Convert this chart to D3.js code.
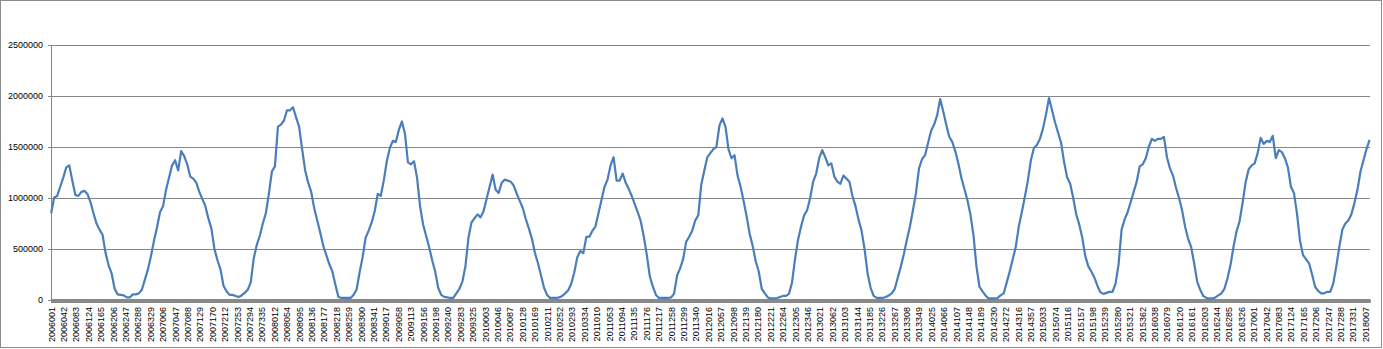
<!DOCTYPE html>
<html><head><meta charset="utf-8">
<script src="https://cdn.jsdelivr.net/npm/d3@7"></script>
<style>
body{margin:0;background:#fff}
svg text{font-family:"Liberation Sans",Arial,sans-serif;font-size:9px;fill:#000}
</style>
</head><body>
<svg id="chart" width="1383" height="349"></svg>
<script>
// ---- data ----
const yTicks = [0, 500000, 1000000, 1500000, 2000000, 2500000];
const tickLabels = ["2006001","2006042","2006083","2006124","2006165","2006206","2006247","2006288","2006329",
"2007006","2007047","2007088","2007129","2007170","2007212","2007253","2007294","2007335",
"2008012","2008054","2008095","2008136","2008177","2008218","2008259","2008300","2008341",
"2009017","2009058","2009113","2009156","2009198","2009240","2009283","2009325",
"2010003","2010046","2010087","2010128","2010169","2010211","2010252","2010293","2010334",
"2011010","2011053","2011094","2011135","2011176","2011217","2011258","2011299","2011340",
"2012016","2012057","2012098","2012139","2012180","2012221","2012264","2012305","2012346",
"2013021","2013062","2013103","2013144","2013185","2013226","2013267","2013308","2013349",
"2014025","2014066","2014107","2014148","2014189","2014230","2014272","2014316","2014357",
"2015033","2015074","2015116","2015157","2015198","2015239","2015280","2015321","2015362",
"2016038","2016079","2016120","2016161","2016203","2016244","2016285","2016326",
"2017001","2017042","2017083","2017124","2017165","2017206","2017247","2017288","2017331",
"2018007"];
const labelEvery = 41;       // one label every 41 daily categories
const categoryCount = 4362;  // daily categories on the axis
const sampleEvery = 10;      // values below are read every 10th category

const seg1 = [850000,1005000,1020000,1110000,1200000,1300000,1320000,1170000,1030000,1020000,
1060000,1070000,1040000,960000,850000,750000,690000,640000,460000,340000,
260000,110000,55000,50000,45000,25000,25000,55000,55000,65000,
100000,200000,300000,430000,580000,710000,860000,920000,1080000,1200000,
1320000,1370000,1270000,1460000,1410000,1330000,1210000,1190000,1150000,1060000,
990000,920000,800000,700000,500000,390000,300000,140000,85000];
const seg2 = [50000,50000,40000,30000,45000,70000,100000,170000,410000,540000,
630000,750000,850000,1040000,1260000,1310000,1700000,1720000,1760000,1860000,
1860000,1890000,1790000,1700000,1480000,1270000,1150000,1060000,900000,780000,
660000,530000,440000,350000,280000,150000,30000,20000,20000,20000,
20000,50000,100000,270000,420000,610000,680000,760000,870000,1040000,
1020000,1170000,1360000,1490000,1560000,1550000,1670000,1750000,1630000,1350000,
1330000,1360000,1200000,920000,740000,630000,520000,390000,280000,120000,
50000,30000,25000,20000,20000];
const seg3 = [65000,110000,180000,330000,610000,760000,800000,840000,810000,870000,
990000,1110000,1230000,1080000,1050000,1150000,1180000,1170000,1160000,1120000,
1040000,970000,900000,790000,700000,600000,460000,360000,240000,120000,
50000,20000,20000,20000,25000,40000,65000,95000,160000,270000,
420000,480000,460000,620000,620000,680000,720000,850000,980000,1110000,
1180000,1320000,1400000,1170000,1170000,1240000,1150000,1090000,1020000,940000,
860000,770000,620000,440000,230000,130000,50000,20000,20000,20000,
20000,25000,60000,240000];
const seg4 = [310000,400000,570000,620000,680000,780000,830000,1130000,1270000,1400000,
1440000,1480000,1500000,1710000,1780000,1700000,1480000,1390000,1420000,1220000,
1110000,970000,820000,650000,530000,380000,280000,110000,65000,25000,
15000,15000,20000,30000,40000,40000,60000,170000,400000,590000,
720000,830000,880000,1000000,1160000,1240000,1390000,1470000,1400000,1320000,
1340000,1210000,1160000,1140000,1220000,1190000,1160000,1020000,920000,790000,
680000,500000,260000,120000,40000,20000,20000,20000,30000,45000,
65000,110000,220000,330000];
const seg5 = [450000,590000,720000,880000,1050000,1290000,1380000,1420000,1540000,1660000,
1720000,1810000,1970000,1850000,1720000,1600000,1550000,1460000,1340000,1200000,
1090000,980000,840000,640000,330000,130000,85000,45000,15000,15000,
15000,20000,45000,65000,170000,280000,400000,520000,720000,860000,
1010000,1170000,1370000,1490000,1520000,1580000,1680000,1820000,1980000,1860000,
1740000,1640000,1540000,1350000,1200000,1140000,1000000,840000,740000,610000,
430000,330000,280000,220000,140000,75000,60000,70000,80000,80000,
160000,350000,690000,790000,860000];
const seg6 = [960000,1060000,1160000,1310000,1330000,1390000,1500000,1580000,1560000,1580000,
1580000,1600000,1400000,1290000,1220000,1100000,1000000,880000,720000,600000,
520000,360000,180000,100000,40000,20000,15000,15000,25000,45000,
65000,110000,210000,340000,520000,670000,770000,950000,1150000,1280000,
1320000,1340000,1440000,1590000,1530000,1560000,1550000,1610000,1390000,1470000,
1450000,1390000,1300000,1110000,1050000,850000,580000,440000,400000,360000,
250000,130000,90000,65000,65000,80000,80000,160000,330000,520000,
690000,750000,780000,840000,950000,1080000,1260000,1370000,1480000,1570000];

// ---- chart ----
const values = [].concat(seg1, seg2, seg3, seg4, seg5, seg6);
const points = values.map((v, k) => ({ i: k * sampleEvery, v }));

const svg = d3.select("#chart");
const L = 51, R = 1370, T = 45, B = 300;

// outer border
svg.append("rect").attr("x", 0.5).attr("y", 0.5).attr("width", 1381).attr("height", 347)
  .attr("fill", "#fff").attr("stroke", "#8c8c8c");

const x = d3.scaleBand().domain(d3.range(categoryCount)).range([L, R]).padding(0);
const cx = i => x(i) + x.bandwidth() / 2;
const y = d3.scaleLinear().domain([0, 2500000]).range([B, T]);

// gridlines
const grid = svg.append("g").attr("transform", `translate(${L},0)`)
  .call(d3.axisLeft(y).tickValues(yTicks.filter(t => t > 0)).tickSize(-(R - L)).tickFormat(""));
grid.select(".domain").remove();
grid.selectAll("line").attr("stroke", "#868686");

// y axis
const ya = svg.append("g").attr("transform", `translate(${L},0)`)
  .call(d3.axisLeft(y).tickValues(yTicks).tickSize(3).tickSizeOuter(0).tickPadding(5).tickFormat(d3.format("d")));
ya.select(".domain").attr("stroke", "#868686");
ya.selectAll("line").attr("stroke", "#868686");
ya.selectAll("text").attr("font-size", null);

// x axis: category tick band
const xa = svg.append("g").attr("transform", `translate(0,${B})`)
  .call(d3.axisBottom(x).tickValues(d3.range(categoryCount)).tickSize(3).tickSizeOuter(0).tickFormat(""));
xa.select(".domain").attr("stroke", "#888").attr("stroke-width", 3);
xa.selectAll("line").attr("stroke", "#8a8a8a");

// x axis labels
const xl = svg.append("g").attr("transform", `translate(0,${B})`)
  .call(d3.axisBottom(x)
    .tickValues(d3.range(0, tickLabels.length).map(t => t * labelEvery))
    .tickSize(0).tickFormat(i => tickLabels[i / labelEvery]));
xl.select(".domain").remove();
xl.selectAll("text").attr("font-size", null)
  .attr("text-anchor", "end")
  .attr("transform", "rotate(-90)")
  .attr("x", -7).attr("y", 0).attr("dy", "0.35em");

// data line
svg.append("path").datum(points)
  .attr("fill", "none").attr("stroke", "#4a7ebb").attr("stroke-width", 2.2)
  .attr("stroke-linejoin", "round")
  .attr("d", d3.line().x(d => cx(d.i)).y(d => y(d.v)));
</script>
</body></html>
